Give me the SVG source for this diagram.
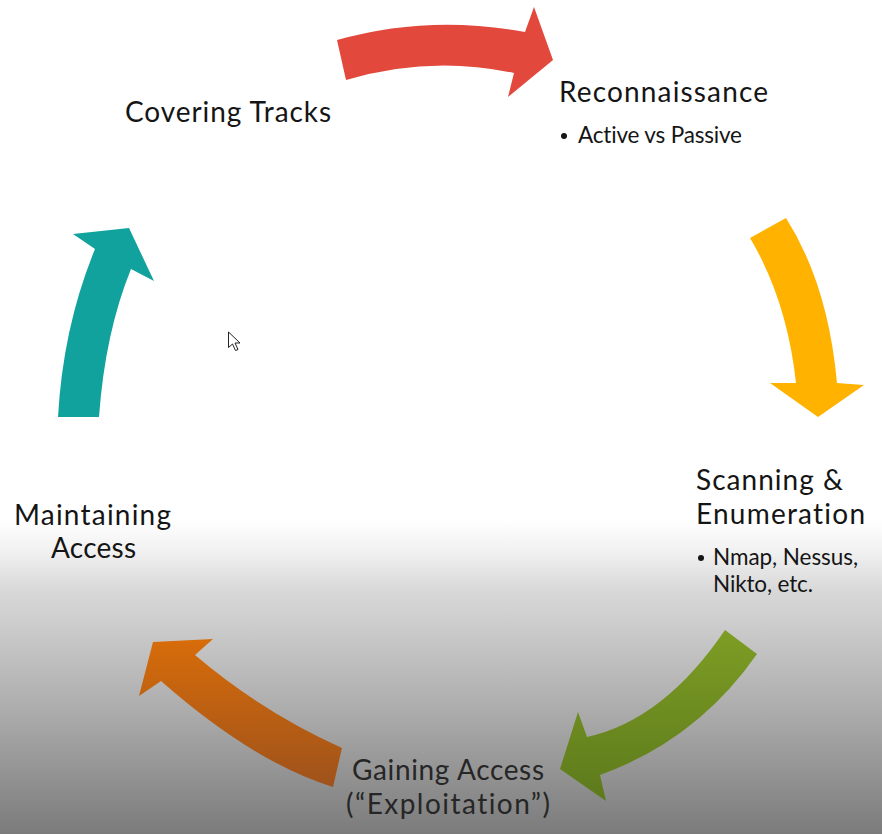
<svg xmlns="http://www.w3.org/2000/svg" width="882" height="834" viewBox="0 0 882 834">
  <defs>
    <linearGradient id="bgFade" x1="0" y1="520" x2="0" y2="834" gradientUnits="userSpaceOnUse">
      <stop offset="0" stop-color="#ffffff"/>
      <stop offset="0.1" stop-color="#f1f1f1"/>
      <stop offset="0.22" stop-color="#d9d9d9"/>
      <stop offset="0.42" stop-color="#c2c2c2"/>
      <stop offset="0.64" stop-color="#a8a8a8"/>
      <stop offset="0.85" stop-color="#8e8e8e"/>
      <stop offset="1" stop-color="#7b7b7b"/>
    </linearGradient>
    <linearGradient id="greenFill" x1="0" y1="630" x2="0" y2="800" gradientUnits="userSpaceOnUse">
      <stop offset="0" stop-color="#7d9d24"/>
      <stop offset="1" stop-color="#5d7a1c"/>
    </linearGradient>
    <linearGradient id="orangeFill" x1="0" y1="640" x2="0" y2="787" gradientUnits="userSpaceOnUse">
      <stop offset="0" stop-color="#d76c0a"/>
      <stop offset="1" stop-color="#9e521b"/>
    </linearGradient>
  </defs>
  <style>
    text { font-variant-ligatures: none; }
    .title { font-family: Lato, "Liberation Sans", sans-serif; font-size: 28px; fill: #151515; }
    .sub { font-family: Lato, "Liberation Sans", sans-serif; font-size: 22.5px; fill: #151515; }
    .dim { fill: #262626; }
    .bullet { fill: #151515; }
  </style>

  <!-- background: white fading to grey at the bottom -->
  <rect x="0" y="0" width="882" height="834" fill="#ffffff"/>
  <rect x="0" y="520" width="882" height="314" fill="url(#bgFade)"/>

  <!-- curved cycle arrows -->
  <g id="connectors">
    <path id="arrow-recon" fill="#e2483c" d="M337,40 Q429,14 525,32 L534,7 L553,60 L508,97 L514,73 Q430,55 346,80 Z"/>
    <path id="arrow-scan" fill="#ffb300" d="M750,238 L786,218 Q828,284 837,383 L864,385 L818,417 L770,383 L796,383 Q787,300 750,238 Z"/>
    <path id="arrow-gain" fill="url(#greenFill)" d="M725,630 L757,654 Q697,740 600,775 L606,801 L560,769 L578,712 L587,737 Q664,720 725,630 Z"/>
    <path id="arrow-maintain" fill="url(#orangeFill)" d="M342,748 L333,787 Q253,762 161,681 L139,696 L153,642 L213,639 L195,655 Q262,712 342,748 Z"/>
    <path id="arrow-cover" fill="#11a29e" d="M58,417 Q63,327 95,249 L73,234 L129,228 L154,281 L131,269 Q105,333 99,417 Z"/>
  </g>

  <g id="reconnaissance">
    <text class="title" x="559" y="102" textLength="209" lengthAdjust="spacing">Reconnaissance</text>
    <circle class="bullet" cx="564" cy="136" r="3"/>
    <text class="sub" x="578" y="143" textLength="164" lengthAdjust="spacing">Active vs Passive</text>
  </g>

  <g id="scanning">
    <text class="title" x="696" y="490" textLength="147" lengthAdjust="spacing">Scanning &amp;</text>
    <text class="title" x="696" y="524" textLength="169" lengthAdjust="spacing">Enumeration</text>
    <circle class="bullet" cx="701" cy="558" r="3"/>
    <text class="sub" x="713" y="565" textLength="145" lengthAdjust="spacing">Nmap, Nessus,</text>
    <text class="sub" x="713" y="592" textLength="100" lengthAdjust="spacing">Nikto, etc.</text>
  </g>

  <g id="gaining-access">
    <text class="title dim" x="352" y="780" textLength="192" lengthAdjust="spacing">Gaining Access</text>
    <text class="title dim" x="346" y="814" textLength="204" lengthAdjust="spacing">(“Exploitation”)</text>
  </g>

  <g id="maintaining-access">
    <text class="title" x="14" y="525" textLength="157" lengthAdjust="spacing">Maintaining</text>
    <text class="title" x="51" y="558" textLength="85" lengthAdjust="spacing">Access</text>
  </g>

  <g id="covering-tracks">
    <text class="title" x="125" y="122" textLength="206" lengthAdjust="spacing">Covering Tracks</text>
  </g>

  <!-- mouse pointer -->
  <path d="M228.5,332 L228.5,347.5 L232.5,344 L235.5,350.5 L238,349.5 L235,343 L240,343 Z" fill="#ffffff" stroke="#222222" stroke-width="1" stroke-linejoin="miter"/>
</svg>
